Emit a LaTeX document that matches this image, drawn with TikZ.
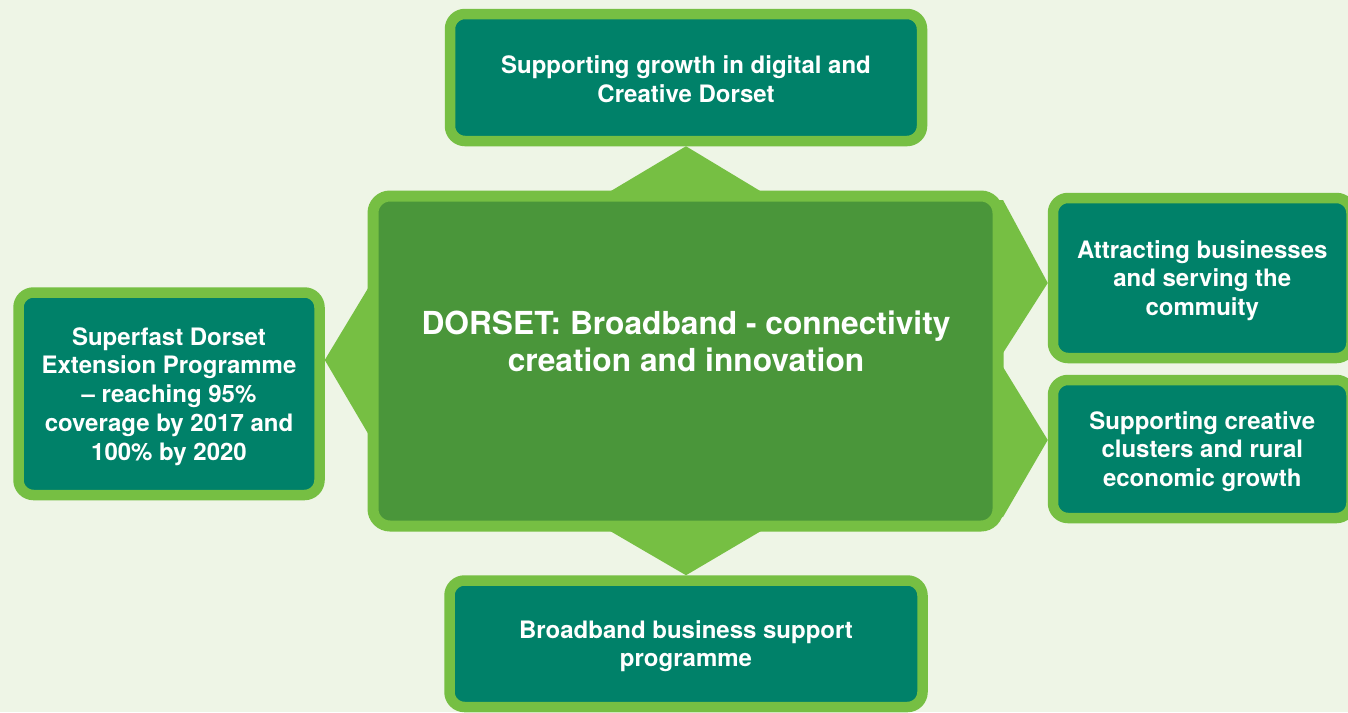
\documentclass[tikz,border=0pt]{standalone}
\usepackage{fontspec}
\setmainfont{TeX Gyre Heros}
\usetikzlibrary{calc}
\definecolor{bgc}{HTML}{EEF5E6}
\definecolor{lightg}{HTML}{76BF43}
\definecolor{darkg}{HTML}{4A963A}
\definecolor{teal}{HTML}{008169}
\pgfdeclarelayer{back}
\pgfsetlayers{back,main}
\begin{document}
\begin{tikzpicture}[x=1pt,y=-1pt,
  box/.style={draw=lightg, fill=teal, line width=10.5pt, rounded corners=15pt,
    inner sep=0pt, outer sep=0pt},
  boxtext/.style={text=white, align=center, inner sep=0pt,
    font=\bfseries\fontsize{24}{28.75}\selectfont},
  mainbox/.style={draw=lightg, fill=darkg, line width=11pt, rounded corners=17pt,
    inner sep=0pt, outer sep=0pt},
  maintext/.style={text=white, align=center, inner sep=0pt,
    font=\bfseries\fontsize{31.7}{37}\selectfont},
  pointer/.style={fill=lightg}]
\useasboundingbox (0,0) rectangle (1348,712);
% boxes
\node[mainbox, minimum width=625pt, minimum height=330pt] (ctr) at (685.5,361) {};
\node[box, minimum width=472pt, minimum height=127pt] (top) at (686,77.5) {};
\node[box, minimum width=473pt, minimum height=126.5pt] (bot) at (686,643.75) {};
\node[box, minimum width=301pt, minimum height=202.5pt] (lft) at (169,393.75) {};
\node[box, minimum width=298.5pt, minimum height=160pt] (rup) at (1202.25,278) {};
\node[box, minimum width=298.5pt, minimum height=138pt] (rlo) at (1202.25,449) {};
% texts
\node[maintext] (ctext) at (686,341.5) {DORSET: Broadband - connectivity\\creation and innovation};
\node[boxtext] (ttop) at ($(top.center)+(0,1.5)$) {Supporting growth in digital and\\Creative Dorset};
\node[boxtext] (tbot) at ($(bot.center)+(0,2.5)$) {Broadband business support\\programme};
\node[boxtext] (tlft) at ($(lft.center)+(0,2.5)$) {Superfast Dorset\\Extension Programme\\– reaching 95\%\\coverage by 2017 and\\100\% by 2020};
\node[boxtext] (trup) at ($(rup.center)+(0,2.5)$) {Attracting businesses\\and serving the\\commuity};
\node[boxtext] (trlo) at ($(rlo.center)+(0,2.5)$) {Supporting creative\\clusters and rural\\economic growth};
\coordinate (lapex) at ($(lft.east)+(5.25,0)$);
\begin{pgfonlayer}{back}
\fill[bgc] (0,0) rectangle (1348,712);
% pointers
\fill[pointer] ($(ctr.north)+(-83,0)$) -- ($(top.south)+(0,5.25)$) -- ($(ctr.north)+(83,0)$) -- cycle;
\fill[pointer] ($(ctr.south)+(-84,0)$) -- ($(bot.north)+(0,-5.25)$) -- ($(ctr.south)+(84,0)$) -- cycle;
\fill[pointer] ($(ctr.west)+(0,-81)$) -- ($(lapex |- ctr.west)+(0,-1)$) -- ($(ctr.west)+(0,81)$) -- cycle;
\fill[pointer] ($(ctr.north east)+(-3,4)$) -- ($(ctr.north east)+(5,4)$) -- ($(rup.west)+(-5.25,5)$) -- ($(ctr.east)+(5,-8)$) -- ($(ctr.east)+(-3,-8)$) -- cycle;
\fill[pointer] ($(ctr.east)+(-3,6)$) -- ($(ctr.east)+(5,6)$) -- ($(rlo.west)+(-5.25,-9)$) -- ($(ctr.south east)+(5,-9)$) -- ($(ctr.south east)+(-3,-9)$) -- cycle;
\end{pgfonlayer}
\end{tikzpicture}
\end{document}
